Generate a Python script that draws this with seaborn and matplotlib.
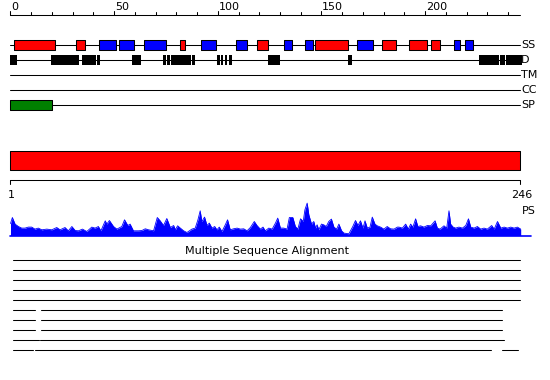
import matplotlib
matplotlib.use("Agg")
import matplotlib.pyplot as plt
import seaborn as sns
import pandas as pd

sns.set_style("white")
plt.rcParams['font.family'] = ['DejaVu Sans']
plt.rcParams['text.color'] = 'black'

# ---------------- data ----------------
seq_len = 246
top_ticks_major = [0, 50, 100, 150, 200]
top_ticks_minor = list(range(0, 241, 10))
track_labels = ["SS", "D", "TM", "CC", "SP"]

helix_ranges = [(1.8, 21.6), (31.8, 35.7), (82, 84), (118.7, 124), (147, 163),
                (179, 186), (192, 201), (203, 207.3)]
strand_ranges = [(42.9, 50.8), (52.4, 59.8), (64.6, 75), (91.7, 98.9), (108.6, 114.1),
                 (131.8, 136), (141.9, 146), (167, 174.8), (214, 217), (219, 223)]
disorder_ranges = [(0, 3), (19.6, 33), (34.7, 41.2), (41.8, 43), (58.8, 63),
                   (73.7, 75), (75.6, 76.9), (77.5, 87.2), (87.7, 89),
                   (99.8, 101), (101.5, 102.7), (103.3, 104.4), (105.4, 106.9),
                   (124, 130.2), (162.6, 164.5), (226, 235.5), (236, 238.3), (238.9, 246.5)]
tm_ranges = []
cc_ranges = []
sp_ranges = [(0, 19.9)]
domain_ranges = [(0, 246)]
domain_labels = ["1", "246"]

ps_pos = [0, 0.9, 2.2, 3.8, 5.4, 7.0, 8.6, 10.2, 11.8, 13.4, 15.1, 17.5, 19.9, 22.3, 23.9,
          26.3, 27.9, 29.6, 31.2, 32.8, 34.7, 36.8, 39.2, 40.8, 42.4, 43.6, 45.7, 46.5,
          47.7, 49.7, 51.3, 53.7, 55.0, 56.6, 57.7, 59.3, 61.8, 63.4, 65, 66.6, 69,
          70.8, 72.2, 73.8, 75.4, 77.1, 78.7, 79.5, 80.6, 81.9, 83.5, 85.1, 87.5, 89.1,
          90.4, 91.5, 92.3, 93.6, 94.8, 95.9, 97.2, 98.5, 99.6, 100.7, 102, 103.6, 104.7,
          106, 107.6, 109.3, 110.9, 112.5, 114.1, 115.7, 117.6, 118.9, 120.5, 121.8,
          122.9, 124.6, 126.2, 127.8, 128.9, 130.2, 131.8, 133.4, 134.5, 136.2, 137.4,
          138.6, 139.9, 141.2, 142, 143.1, 143.9, 145.2, 146.3, 147.1, 147.9, 148.7, 150,
          151.1, 152.3, 153.5, 154.8, 156, 157.3, 158.4, 159.7, 160.8, 163.2, 165.1,
          166.4, 167.6, 168.8, 170, 171, 172.1, 173.4, 174.5, 175.8, 176.9, 178.5, 180.1,
          181.7, 183.3, 185, 186.6, 187.4, 189, 190.6, 191.9, 193, 194.1, 195.4, 196.5,
          197.8, 199.4, 201.1, 202.7, 204.8, 205.9, 207.2, 209.1, 210.4, 211.5, 212.3,
          213.5, 214.7, 216.3, 218, 219.6, 220.9, 222, 223.6, 225.2, 226.8, 228.4, 230,
          232.1, 233.3, 234.9, 236.5, 238.1, 239.7, 241.3, 242.9, 244.5, 246.1]
ps_val = [12, 18, 11.4, 9, 7.4, 7.4, 8.4, 8.4, 6.4, 7.4, 5.7, 6.4, 5.7, 8, 5.7,
          8, 4.7, 9, 5, 4.7, 6.4, 4, 8.4, 7.4, 9, 4.7, 14.7, 11.4,
          15, 9, 6.4, 9, 15.7, 10, 11.4, 4.7, 4.7, 5, 6.7, 5.7, 4.7,
          18, 14.7, 10, 17, 8, 10, 5.7, 9.7, 7.4, 4.7, 3, 6.4, 7.4,
          15.7, 24.7, 14, 18.4, 10, 12.4, 7.4, 9, 5.7, 8.4, 4, 10.7, 15.7,
          5.7, 6.7, 7.4, 6.4, 6.7, 4.7, 8, 14, 10, 6.4, 8.4,
          4.7, 7.4, 6.4, 12.4, 17.4, 7.4, 7.4, 6.4, 18, 18, 9,
          6.4, 16.7, 14, 25.7, 32.4, 20.7, 11.4, 14, 7.4, 10.7, 5.7, 11.4,
          10.7, 9, 14, 16.4, 8.4, 6.4, 11.4, 4.7, 2.4, 1.7, 9,
          15, 10, 14.7, 7.4, 14.7, 7.4, 8.4, 18.4, 11.4, 9.7, 8.4, 6.4,
          9, 6.7, 6.4, 8.4, 8.4, 7.4, 11.4, 6.4, 11.4, 8.4, 16.7, 9,
          9.7, 8.4, 10, 9.7, 14.7, 7.4, 6.4, 9.7, 7.4, 24.7, 11.4,
          8.4, 7.4, 8.4, 7.4, 10, 16.7, 8.4, 7.4, 9, 6.4, 7.4, 6.4,
          10, 6.4, 14, 7.4, 8.4, 7.4, 8.4, 7.4, 8.4, 6.4]

msa_rows = [
    [(1, 246)], [(1, 246)], [(1, 246)], [(1, 246)], [(1, 246)],
    [(1, 11.7), (14.9, 237.2)], [(1, 11.7), (14.9, 237.2)], [(1, 11.7), (14.9, 237.2)],
    [(1, 13.9), (14.4, 238)],
    [(1, 10.7), (11.7, 231.9), (237.2, 244.9)],
]

# ---------------- layout (pixel rows) ----------------
W, H = 550, 380
s = 510.0 / seq_len
x0 = 10.5
fig = plt.figure(figsize=(5.5, 3.8), dpi=100)
ax = fig.add_axes([0, 0, 1, 1])
ax.set_xlim(-x0 / s, (W - x0) / s)
ax.set_ylim(H, 0)
ax.axis("off")
lw = 0.75
fs = 8

# top ruler
y_rule = 15
ax.plot([0, seq_len], [y_rule, y_rule], color="black", lw=lw)
for t in top_ticks_minor:
    top = y_rule - (4.5 if t in top_ticks_major else 3)
    ax.plot([t, t], [y_rule, top], color="black", lw=lw)
for t in top_ticks_major:
    ax.text(t + 0.3, 9.5, str(t), fontsize=fs, ha="left", va="baseline", color="black")

# tracks
track_y = [45, 60, 75, 90, 105]
for yy, lab in zip(track_y, track_labels):
    ax.plot([0, seq_len], [yy, yy], color="black", lw=lw, zorder=1)
    ax.text(seq_len + 0.4, yy, lab, fontsize=fs, ha="left", va="center", color="black")

def boxes(ranges, yc, h, color, edge=True):
    if not ranges:
        return
    ax.broken_barh([(a, b - a) for a, b in ranges], (yc - h / 2, h),
                   facecolors=color, edgecolors="black" if edge else "none",
                   linewidth=lw if edge else 0, zorder=2)

boxes(helix_ranges, 45, 9.5, "#ff0000")
boxes(strand_ranges, 45, 9.5, "#0000ff")
boxes(disorder_ranges, 60, 10.5, "black", edge=False)
boxes(tm_ranges, 75, 9.5, "#ffff00")
boxes(cc_ranges, 90, 9.5, "#00ffff")
boxes(sp_ranges, 105, 9.5, "#008000")

# domain bar
boxes(domain_ranges, 160.3, 19.5, "#ff0000")

# domain ruler
y_dr = 180.3
ax.plot([0, seq_len], [y_dr, y_dr], color="black", lw=lw)
for t, lab in zip([0, seq_len], domain_labels):
    ax.plot([t, t], [y_dr, y_dr + 4], color="black", lw=lw)
    ax.text(t + 0.5, 195.5, lab, fontsize=fs, ha="center", va="center", color="black")
ax.text(seq_len + 0.6, 210.5, "PS", fontsize=fs, ha="left", va="center", color="black")

# PS profile
base = 235.5
df = pd.DataFrame({"pos": ps_pos, "top": [base - v for v in ps_val]})
ax.fill_between(df["pos"], base, df["top"], color="#0000ff", lw=0, zorder=2)
sns.lineplot(data=df, x="pos", y="top", color="#0000ff", lw=0.6, ax=ax, zorder=3)
ax.plot([0, 251.3], [base, base], color="#0000ff", lw=1.2)
ax.set_xlim(-x0 / s, (W - x0) / s)
ax.set_ylim(H, 0)
ax.set_xlabel("")
ax.set_ylabel("")

# MSA
ax.text(seq_len / 2 + 0.8, 250.5, "Multiple Sequence Alignment", fontsize=fs,
        ha="center", va="center", color="black")
for i, segs in enumerate(msa_rows):
    yy = 260 + 10 * i
    for a, b in segs:
        ax.plot([a, b], [yy, yy], color="black", lw=lw)

fig.savefig("out.png", dpi=100)
